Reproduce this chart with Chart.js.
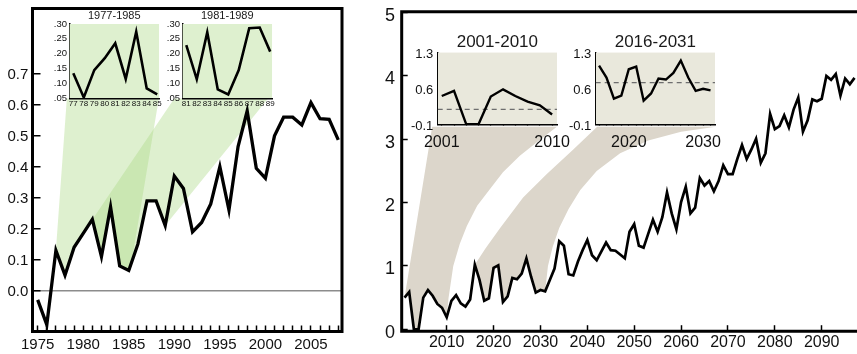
<!DOCTYPE html>
<html>
<head>
<meta charset="utf-8">
<script src="https://cdn.jsdelivr.net/npm/chart.js@4.4.1/dist/chart.umd.min.js"></script>
<style>
  html, body { margin: 0; padding: 0; background: #fff; }
  #wrap { position: relative; width: 857px; height: 354px; overflow: hidden; }
  #wrap canvas { position: absolute; }
</style>
</head>
<body>
<div id="wrap">
  <canvas id="past" width="355" height="354" style="left:0;top:0"></canvas>
  <canvas id="future" width="502" height="354" style="left:355px;top:0"></canvas>
  <canvas id="inset_7785" width="125" height="112" style="left:40px;top:0"></canvas>
  <canvas id="inset_8189" width="125" height="112" style="left:153.4px;top:0"></canvas>
  <canvas id="inset_0110" width="190" height="127" style="left:400px;top:25px"></canvas>
  <canvas id="inset_1631" width="190" height="127" style="left:558px;top:25px"></canvas>
</div>
<script>
// observed record 1975-2008
const past_years = Array.from({length: 34}, (_, i) => 1975 + i);
const past_values = [-0.03, -0.11, 0.13, 0.05, 0.14, 0.185, 0.23, 0.11, 0.27, 0.08,
    0.065, 0.15, 0.29, 0.29, 0.21, 0.37, 0.33, 0.19, 0.22, 0.28,
    0.40, 0.26, 0.465, 0.58, 0.395, 0.363, 0.50, 0.56, 0.56, 0.535,
    0.607, 0.555, 0.553, 0.487];
const past_x_ticks = past_years;
const past_y_ticks = [0, 0.1, 0.2, 0.3, 0.4, 0.5, 0.6, 0.7];

// projection 2001-2097
const future_years = Array.from({length: 97}, (_, i) => 2001 + i);
const future_values = [0.50, 0.59, 0.0, 0.0, 0.50, 0.62, 0.53, 0.40, 0.34, 0.19,
    0.45, 0.54, 0.41, 0.36, 0.47, 1.02, 0.78, 0.45, 0.49, 0.97,
    1.01, 0.43, 0.52, 0.81, 0.79, 0.88, 1.12, 0.83, 0.58, 0.62,
    0.60, 0.78, 0.96, 1.39, 1.32, 0.87, 0.85, 1.07, 1.25, 1.41,
    1.17, 1.09, 1.23, 1.37, 1.25, 1.24, 1.18, 1.12, 1.54, 1.66,
    1.32, 1.29, 1.51, 1.73, 1.54, 1.77, 2.16, 1.83, 1.58, 2.01,
    2.25, 1.83, 1.92, 2.39, 2.27, 2.34, 2.18, 2.34, 2.59, 2.45,
    2.45, 2.69, 2.91, 2.69, 2.84, 3.01, 2.63, 2.78, 3.40, 3.16,
    3.21, 3.38, 3.19, 3.47, 3.66, 3.12, 3.30, 3.63, 3.60, 3.64,
    4.00, 3.94, 4.03, 3.69, 3.96, 3.87, 3.97];
const future_x_ticks = [2010, 2020, 2030, 2040, 2050, 2060, 2070, 2080, 2090];
const future_y_ticks = [0, 1, 2, 3, 4, 5];

// zoomed windows
const inset_7785_years = [1977, 1978, 1979, 1980, 1981, 1982, 1983, 1984, 1985];
const inset_7785_values = [0.134, 0.053, 0.145, 0.185, 0.235, 0.115, 0.274, 0.083, 0.063];
const inset_8189_years = [1981, 1982, 1983, 1984, 1985, 1986, 1987, 1988, 1989];
const inset_8189_values = [0.229, 0.114, 0.272, 0.08, 0.063, 0.145, 0.286, 0.288, 0.207];
const inset_small_y_ticks = [0.05, 0.10, 0.15, 0.20, 0.25, 0.30];

const inset_0110_years = [2001, 2002, 2003, 2004, 2005, 2006, 2007, 2008, 2009, 2010];
const inset_0110_values = [0.45, 0.55, -0.1, -0.1, 0.44, 0.58, 0.45, 0.34, 0.27, 0.09];
const inset_0110_mean = 0.19;
const inset_1631_years = [2016, 2017, 2018, 2019, 2020, 2021, 2022, 2023, 2024, 2025, 2026, 2027, 2028, 2029, 2030, 2031];
const inset_1631_values = [1.04, 0.81, 0.40, 0.46, 0.97, 1.02, 0.36, 0.50, 0.79, 0.77, 0.90, 1.14, 0.81, 0.55, 0.59, 0.56];
const inset_1631_mean = 0.71;
const inset_big_y_ticks = [-0.1, 0.6, 1.3];

// shaded "zoom" bands: edge vertices in data units, the bottom follows the series
const past_band_1 = {left: [[1978.2, 0.62]], from: 1977, to: 1985, right: [[1985.3, 0.09], [1988.3, 0.62]]};
const past_band_2 = {left: [[1990.0, 0.62]], from: 1981, to: 1989, right: [[2000.3, 0.62]]};
const future_band_1 = {left: [[2006.9, 3.2]], from: 2001, to: 2010,
    right: [[2010.4, 0.5], [2011.4, 1.0], [2012.8, 1.35], [2014.3, 1.63], [2016.5, 1.95], [2019.2, 2.21],
            [2022, 2.48], [2025.6, 2.74], [2029.5, 2.97], [2033.5, 3.2]]};
const future_band_2 = {left: [[2042.1, 3.2], [2037, 2.84], [2031.3, 2.45], [2026.3, 2.08], [2021.4, 1.6], [2018.3, 1.28]],
    from: 2016, to: 2031,
    right: [[2031.6, 1.0], [2032.6, 1.3], [2034, 1.6], [2036, 1.9], [2038.5, 2.2], [2042, 2.5],
            [2047, 2.78], [2053, 2.98], [2060, 3.12], [2067.4, 3.2]]};

Chart.defaults.font.family = '"Liberation Sans", Arial, sans-serif';
Chart.defaults.color = '#111';

function points(xs, ys) {
    return xs.map((x, i) => ({x: x, y: ys[i]}));
}

function band(years, values, b) {
    const body = [];
    years.forEach((yr, i) => {
        if (yr >= b.from && yr <= b.to) body.push([yr, values[i]]);
    });
    return b.left.concat(body, b.right).map(p => ({x: p[0], y: p[1]}));
}

// fixed axis size, and no extra label padding pushed into the layout
function fixSize(prop, value) {
    return s => {
        s[prop] = value;
        s.paddingTop = 0;
        s.paddingBottom = 0;
        s.paddingLeft = 0;
        s.paddingRight = 0;
    };
}

const framePlugin = {
    id: 'frame',
    afterDatasetsDraw(chart, args, opts) {
        const {ctx, chartArea: a} = chart;
        ctx.save();
        ctx.strokeStyle = '#000';
        ctx.lineWidth = opts.width;
        ctx.beginPath();
        if (opts.closed) {
            ctx.rect(a.left, a.top, a.right - a.left, a.bottom - a.top);
        } else {
            ctx.moveTo(a.right + 2, a.top);
            ctx.lineTo(a.left, a.top);
            ctx.lineTo(a.left, a.bottom);
            ctx.lineTo(a.right + 2, a.bottom);
        }
        ctx.stroke();
        ctx.restore();
    }
};

new Chart(document.getElementById('past'), {
    type: 'line',
    data: {
        datasets: [{
            data: points(past_years, past_values),
            borderColor: '#000',
            borderWidth: 3.3,
            pointRadius: 0,
            fill: false,
            order: 0
        }, {
            data: band(past_years, past_values, past_band_1),
            fill: 'shape',
            backgroundColor: 'rgba(172, 218, 135, 0.4)',
            borderColor: 'rgba(0,0,0,0)',
            pointRadius: 0,
            order: 1
        }, {
            data: band(past_years, past_values, past_band_2),
            fill: 'shape',
            backgroundColor: 'rgba(172, 218, 135, 0.4)',
            borderColor: 'rgba(0,0,0,0)',
            pointRadius: 0,
            order: 2
        }]
    },
    options: {
        responsive: false,
        animation: false,
        layout: {padding: {top: 8.5, right: 13, left: 0, bottom: 0}},
        plugins: {
            legend: {display: false},
            tooltip: {enabled: false},
            frame: {width: 3, closed: true}
        },
        scales: {
            x: {
                type: 'linear',
                min: 1974.43,
                max: 2008.41,
                afterFit: fixSize('height', 22.5),
                afterBuildTicks: s => { s.ticks = past_x_ticks.map(v => ({value: v})); },
                border: {display: false},
                grid: {drawOnChartArea: false, tickLength: -6, tickColor: '#000', tickWidth: 1.5},
                ticks: {
                    autoSkip: false,
                    maxRotation: 0,
                    padding: 10.5,
                    font: {size: 15},
                    callback: v => (v % 5 === 0 ? String(v) : '')
                }
            },
            y: {
                min: -0.132,
                max: 0.911,
                afterFit: fixSize('width', 32.5),
                afterBuildTicks: s => { s.ticks = past_y_ticks.map(v => ({value: v})); },
                border: {display: false},
                grid: {
                    color: c => (c.tick && c.tick.value === 0 ? '#8c8c8c' : 'rgba(0,0,0,0)'),
                    lineWidth: 1.5,
                    tickLength: -8,
                    tickColor: '#000',
                    tickWidth: 1.5
                },
                ticks: {
                    padding: 12.2,
                    labelOffset: 1,
                    font: {size: 15, lineHeight: 1},
                    callback: v => v.toFixed(1)
                }
            }
        }
    },
    plugins: [framePlugin]
});

new Chart(document.getElementById('future'), {
    type: 'line',
    data: {
        datasets: [{
            data: points(future_years, future_values),
            borderColor: '#000',
            borderWidth: 2.7,
            pointRadius: 0,
            fill: false,
            order: 0
        }, {
            data: band(future_years, future_values, future_band_1),
            fill: 'shape',
            backgroundColor: '#dcd6cb',
            borderColor: 'rgba(0,0,0,0)',
            pointRadius: 0,
            order: 1
        }, {
            data: band(future_years, future_values, future_band_2),
            fill: 'shape',
            backgroundColor: '#dcd6cb',
            borderColor: 'rgba(0,0,0,0)',
            pointRadius: 0,
            order: 2
        }]
    },
    options: {
        responsive: false,
        animation: false,
        layout: {padding: {top: 11.7, right: 0, left: 0, bottom: 0}},
        plugins: {
            legend: {display: false},
            tooltip: {enabled: false},
            frame: {width: 3, closed: false}
        },
        scales: {
            x: {
                type: 'linear',
                min: 2000.4,
                max: 2097.53,
                afterFit: fixSize('height', 22.8),
                afterBuildTicks: s => { s.ticks = future_x_ticks.map(v => ({value: v})); },
                border: {display: false},
                grid: {drawOnChartArea: false, tickLength: -6, tickColor: '#000', tickWidth: 1.5},
                ticks: {
                    autoSkip: false,
                    maxRotation: 0,
                    padding: 7.8,
                    font: {size: 16},
                    callback: v => String(v)
                }
            },
            y: {
                min: -0.03,
                max: 5.015,
                afterFit: fixSize('width', 46.7),
                afterBuildTicks: s => { s.ticks = future_y_ticks.map(v => ({value: v})); },
                border: {display: false},
                grid: {drawOnChartArea: false, tickLength: -6, tickColor: '#000', tickWidth: 1.5},
                ticks: {
                    padding: 12.7,
                    labelOffset: 3.5,
                    font: {size: 18, lineHeight: 1},
                    callback: v => String(v)
                }
            }
        }
    },
    plugins: [framePlugin]
});

function inset(id, o) {
    const datasets = [{
        data: points(o.years, o.values),
        borderColor: '#000',
        borderWidth: o.lineWidth,
        pointRadius: 0,
        fill: false,
        order: 0
    }];
    if (o.mean !== undefined) {
        datasets.push({
            data: [{x: o.xMin, y: o.mean}, {x: o.xMax, y: o.mean}],
            borderColor: '#6e6e6e',
            borderWidth: 1.3,
            borderDash: [5, 4],
            pointRadius: 0,
            fill: false,
            order: 1
        });
    }
    datasets.push({
        data: [{x: o.xMin, y: o.yMax}, {x: o.xMax, y: o.yMax}],
        fill: 'start',
        backgroundColor: o.background,
        borderColor: 'rgba(0,0,0,0)',
        pointRadius: 0,
        order: 2
    });
    return new Chart(document.getElementById(id), {
        type: 'line',
        data: {datasets: datasets},
        options: {
            responsive: false,
            animation: false,
            layout: {padding: {top: o.padTop, right: o.padRight, left: 0, bottom: 0}},
            plugins: {
                legend: {display: false},
                tooltip: {enabled: false},
                title: {
                    display: true,
                    text: o.title,
                    fullSize: false,
                    color: '#1a1a1a',
                    font: {size: o.titleSize, weight: 'normal', lineHeight: o.titleLineHeight},
                    padding: {top: 0, bottom: o.titleGap}
                }
            },
            scales: {
                x: {
                    type: 'linear',
                    min: o.xMin,
                    max: o.xMax,
                    afterFit: fixSize('height', o.xHeight),
                    afterBuildTicks: s => { s.ticks = o.years.map(v => ({value: v})); },
                    border: {display: true, color: '#000', width: 1.5},
                    grid: {
                        display: o.xTickLength !== 0,
                        drawTicks: o.xTickLength !== 0,
                        drawOnChartArea: false,
                        tickLength: o.xTickLength,
                        tickColor: '#000',
                        tickWidth: 1.2
                    },
                    ticks: {
                        autoSkip: false,
                        maxRotation: 0,
                        padding: o.xPadding,
                        font: {size: o.xFontSize},
                        callback: o.xLabel
                    }
                },
                y: {
                    min: o.yMin,
                    max: o.yMax,
                    afterFit: fixSize('width', o.yWidth),
                    afterBuildTicks: s => { s.ticks = o.yTicks.map(v => ({value: v})); },
                    border: {display: true, color: '#000', width: 1.5},
                    grid: {display: false, drawTicks: false},
                    ticks: {
                        padding: o.yPadding,
                        labelOffset: o.yLabelOffset,
                        font: {size: o.yFontSize, lineHeight: 1},
                        callback: o.yLabel
                    }
                }
            }
        }
    });
}

const small_inset = {
    lineWidth: 2.6,
    background: '#def0cf',
    padTop: 9.1,
    padRight: 5.7,
    titleSize: 11,
    titleLineHeight: 1.2,
    titleGap: 1.7,
    xHeight: 13.7,
    xTickLength: 0,
    xPadding: 0.5,
    xFontSize: 8,
    xLabel: v => String(v).slice(2),
    yMin: 0.05,
    yMax: 0.30,
    yTicks: inset_small_y_ticks,
    yWidth: 29.3,
    yPadding: 2.3,
    yLabelOffset: 0,
    yFontSize: 9.5,
    yLabel: v => v.toFixed(2).slice(1)
};

inset('inset_7785', Object.assign({}, small_inset, {
    title: '1977-1985',
    years: inset_7785_years,
    values: inset_7785_values,
    xMin: 1976.62,
    xMax: 1985.2
}));

inset('inset_8189', Object.assign({}, small_inset, {
    title: '1981-1989',
    years: inset_8189_years,
    values: inset_8189_values,
    xMin: 1980.62,
    xMax: 1989.2
}));

const big_inset = {
    lineWidth: 2.4,
    background: '#e9e8dc',
    padTop: 9.2,
    padRight: 33,
    titleSize: 17,
    titleLineHeight: 1,
    titleGap: 1.1,
    xHeight: 27.7,
    xTickLength: -3,
    xPadding: 11.6,
    xFontSize: 16,
    yMin: -0.1,
    yMax: 1.3,
    yTicks: inset_big_y_ticks,
    yWidth: 37.7,
    yPadding: 4.4,
    yLabelOffset: 2,
    yFontSize: 13,
    yLabel: v => v.toFixed(1)
};

inset('inset_0110', Object.assign({}, big_inset, {
    title: '2001-2010',
    years: inset_0110_years,
    values: inset_0110_values,
    mean: inset_0110_mean,
    xMin: 2000.67,
    xMax: 2010.4,
    xLabel: v => (v === 2001 || v === 2010 ? String(v) : '')
}));

inset('inset_1631', Object.assign({}, big_inset, {
    title: '2016-2031',
    years: inset_1631_years,
    values: inset_1631_values,
    mean: inset_1631_mean,
    xMin: 2015.55,
    xMax: 2031.6,
    xLabel: v => (v === 2020 || v === 2030 ? String(v) : '')
}));
</script>
</body>
</html>
